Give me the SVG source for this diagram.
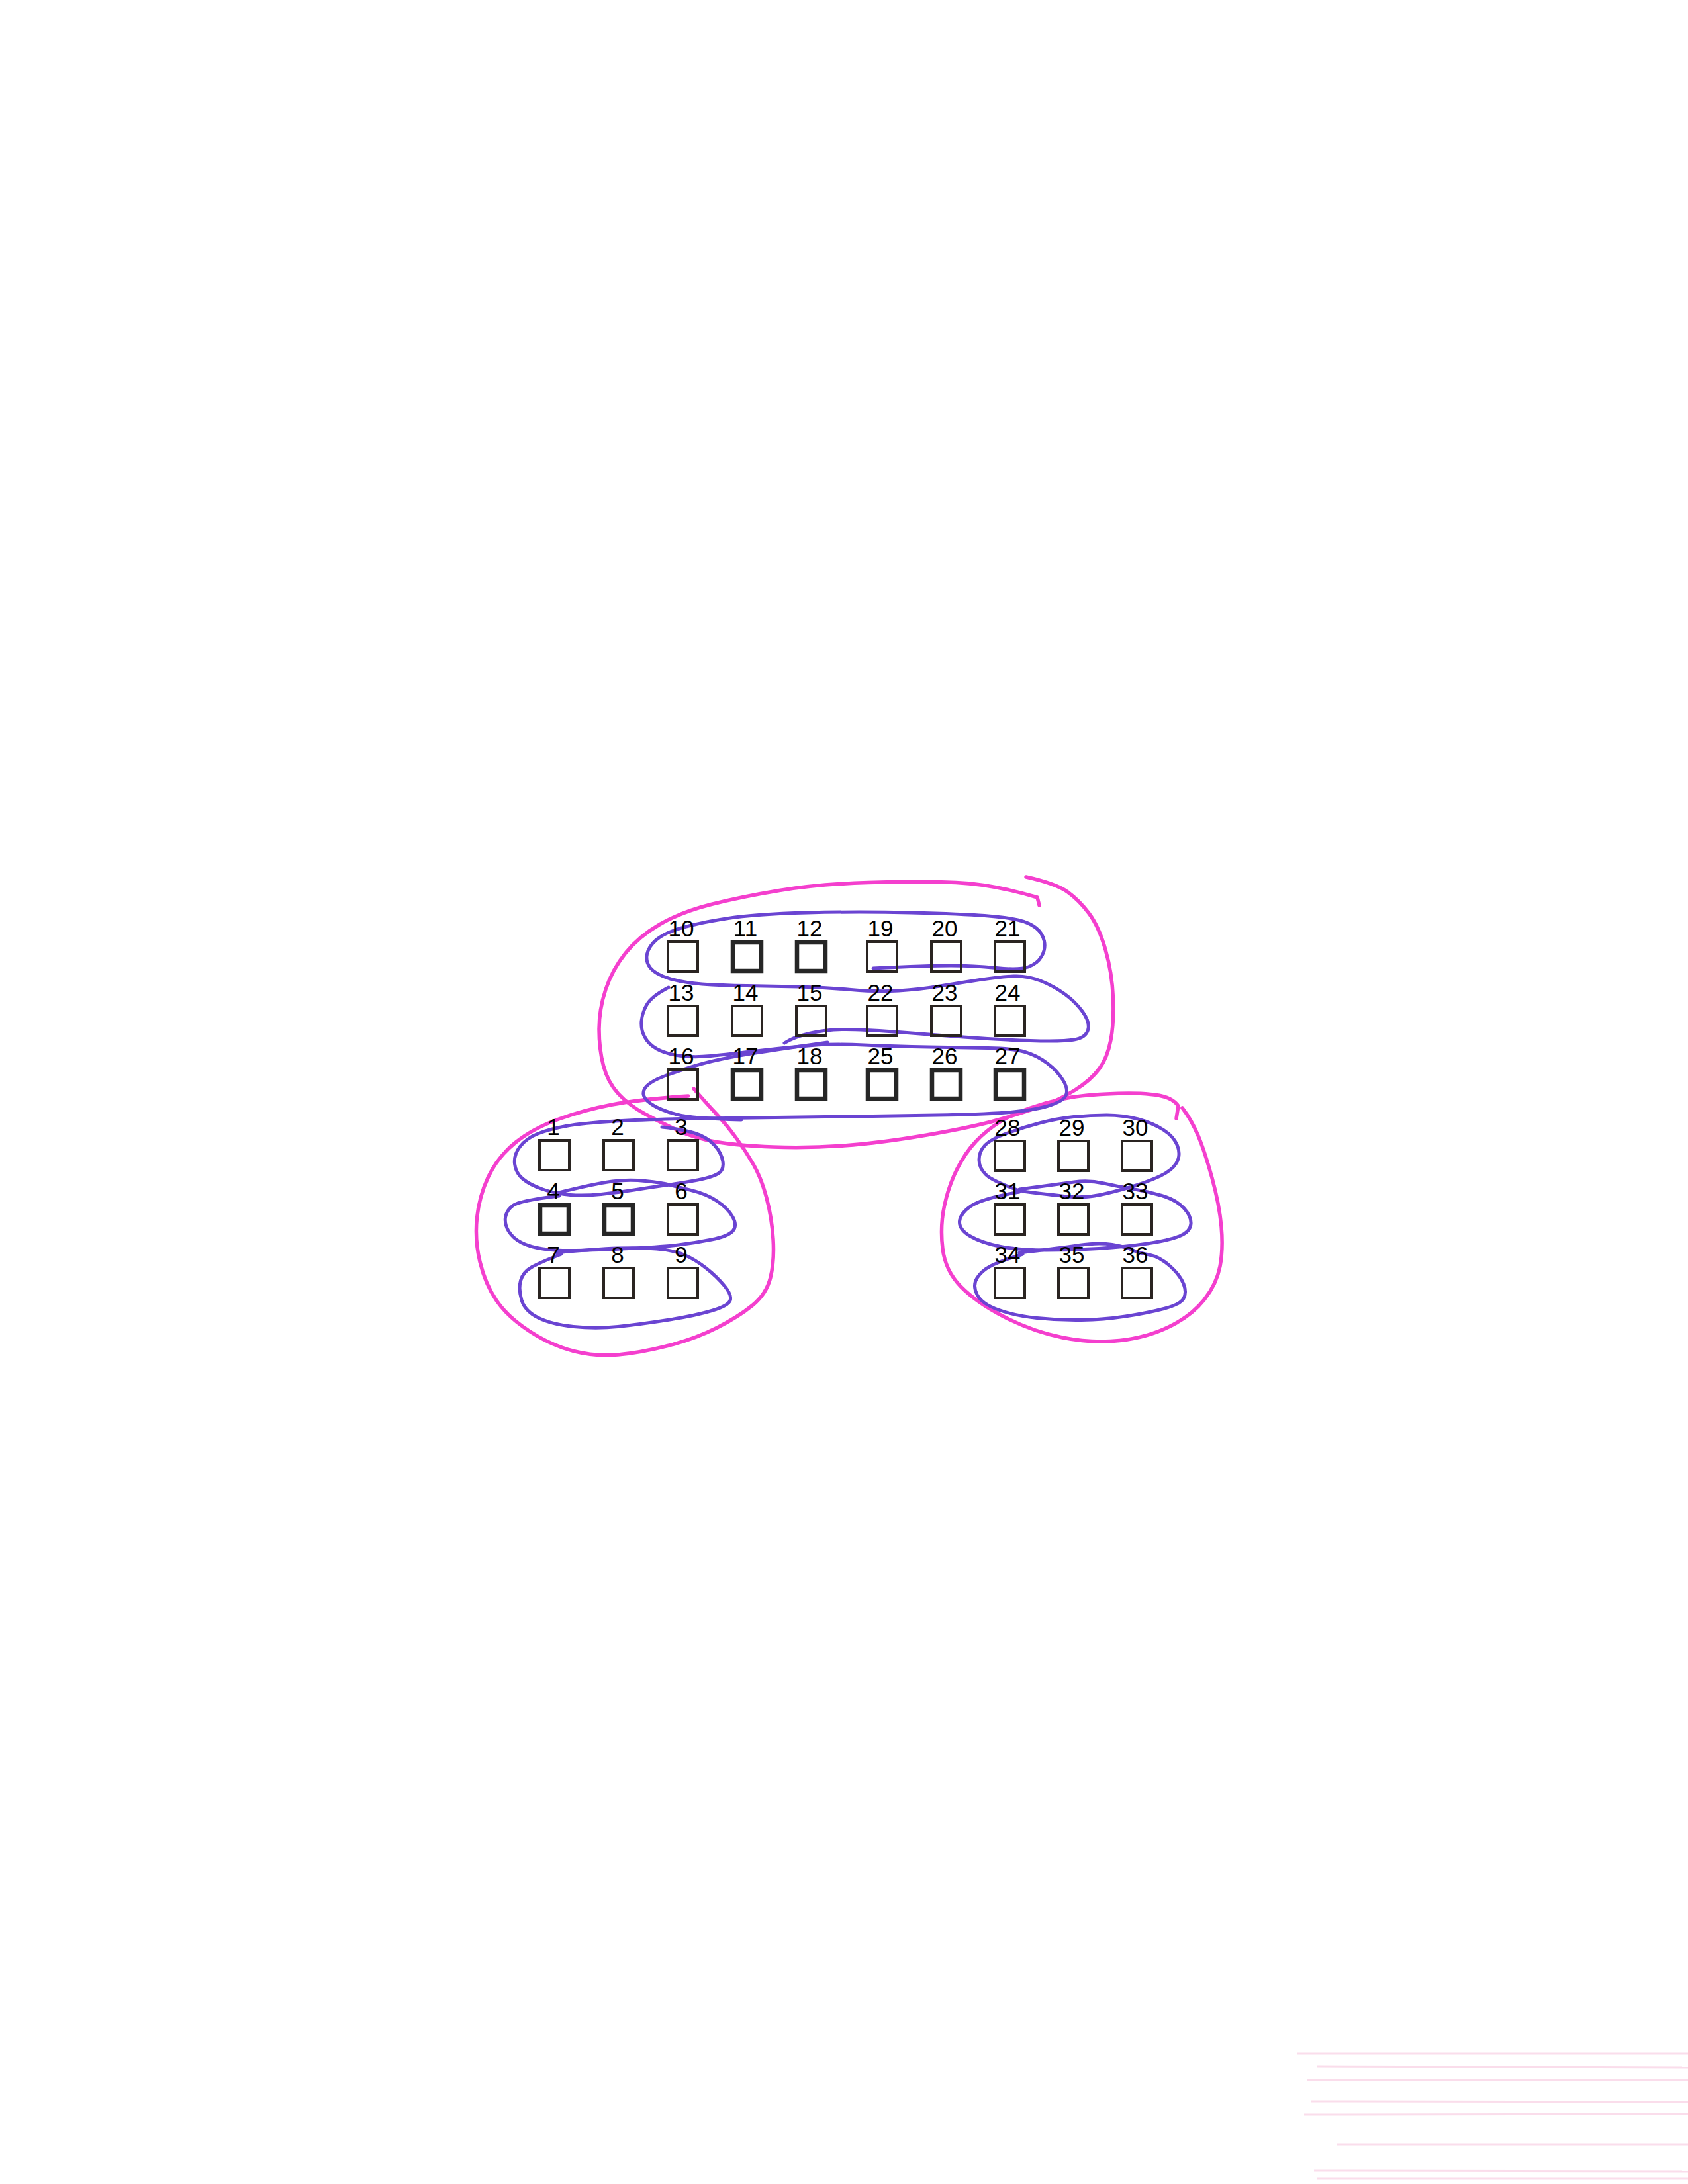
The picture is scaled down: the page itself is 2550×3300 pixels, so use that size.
<svg xmlns="http://www.w3.org/2000/svg" width="2550" height="3300" viewBox="0 0 2550 3300">
<style>
.bg{fill:#ffffff}
.pink{fill:none;stroke:#f43fce;stroke-width:5.5;stroke-linecap:round;stroke-linejoin:round}
.purple{fill:none;stroke:#6a44d2;stroke-width:5;stroke-linecap:round;stroke-linejoin:round}
.box{fill:none;stroke:#2a2421;stroke-width:4}
.box.thick{stroke:#262626;stroke-width:6.5}
.lbl{font-family:"Liberation Sans",Arial,sans-serif;font-size:35px;fill:#000;text-anchor:middle}
.streak{stroke:#f3a0c8;stroke-width:3;opacity:0.35}
</style>
<rect class="bg" x="0" y="0" width="2550" height="3300"/>

<g id="scan-marks">
<line class="streak" x1="1960" y1="3103" x2="2550" y2="3103"/>
<line class="streak" x1="1990" y1="3122" x2="2550" y2="3124"/>
<line class="streak" x1="1975" y1="3143" x2="2550" y2="3143"/>
<line class="streak" x1="1980" y1="3175" x2="2550" y2="3176"/>
<line class="streak" x1="1970" y1="3195" x2="2550" y2="3194"/>
<line class="streak" x1="2020" y1="3240" x2="2550" y2="3240"/>
<line class="streak" x1="1985" y1="3280" x2="2550" y2="3281"/>
<line class="streak" x1="1990" y1="3292" x2="2550" y2="3292"/>
</g>

<g id="connectors">
<path id="loop-top" class="pink" d="M1570,1368 L1567,1356 Q1500,1336 1444,1333.5 Q1388,1331 1311.5,1333.5 Q1235,1336 1177.5,1345.5 Q1120,1355 1074.5,1366.5 Q1029,1378 997,1396.5 Q965,1415 945,1440 Q925,1465 915,1495 Q905,1525 905,1555 Q905,1585 911.5,1610 Q918,1635 934,1652.5 Q950,1670 975,1683.5 Q1000,1697 1025,1708.5 Q1050,1720 1082.5,1725.5 Q1115,1731 1167.5,1733 Q1220,1735 1275,1731 Q1330,1727 1400,1715 Q1470,1703 1510,1691.5 Q1550,1680 1575,1671 Q1600,1662 1624,1647 Q1648,1632 1660.5,1615 Q1673,1598 1678,1571.5 Q1683,1545 1681.5,1507.5 Q1680,1470 1670,1435 Q1660,1400 1645,1380 Q1630,1360 1612.5,1347.5 Q1595,1335 1550,1325"/>
<path id="loop-left" class="pink" d="M1040,1656 Q967,1661 925,1669 Q883,1677 844,1691 Q805,1705 778.5,1726.5 Q752,1748 738,1777.5 Q724,1807 720.5,1840 Q717,1873 725,1906.5 Q733,1940 750,1965 Q767,1990 800,2011.5 Q833,2033 866.5,2041.5 Q900,2050 933.5,2047 Q967,2044 1008.5,2033.5 Q1050,2023 1082.5,2006.5 Q1115,1990 1136.5,1972.5 Q1158,1955 1164,1930 Q1170,1905 1168,1872.5 Q1166,1840 1158,1810 Q1150,1780 1138.5,1760 Q1127,1740 1112.5,1720 Q1098,1700 1083,1684 Q1068,1668 1048,1645"/>
<path id="loop-right" class="pink" d="M1777,1690 L1780,1671 Q1770,1656 1738,1653.5 Q1713,1651 1671.5,1653 Q1630,1655 1605,1660.5 Q1580,1666 1555,1674.5 Q1530,1683 1510,1695.5 Q1490,1708 1474,1725 Q1458,1742 1445.5,1767 Q1433,1792 1426.5,1822.5 Q1420,1853 1424,1886.5 Q1428,1920 1451.5,1944 Q1475,1968 1517.5,1990 Q1560,2012 1605,2021 Q1650,2030 1691.5,2025.5 Q1733,2021 1766.5,2004.5 Q1800,1988 1819,1964 Q1838,1940 1843,1913.5 Q1848,1887 1845,1853.5 Q1842,1820 1831,1780 Q1820,1740 1810,1716 Q1800,1692 1786,1674"/>

<path id="rows-top-a" class="purple" d="M1319,1463 Q1403,1459 1436.5,1459 Q1470,1459 1505,1462.5 Q1540,1466 1553.5,1461 Q1567,1456 1573.5,1445 Q1580,1434 1577.5,1422 Q1575,1410 1565,1402 Q1555,1394 1537.5,1390 Q1520,1386 1487.5,1383.5 Q1455,1381 1376.5,1379 Q1298,1377 1219.5,1379 Q1141,1381 1097,1388 Q1053,1395 1028,1402.5 Q1003,1410 991.5,1420 Q980,1430 977.5,1441.5 Q975,1453 982.5,1462.5 Q990,1472 1011,1478.5 Q1032,1485 1060.5,1487 Q1089,1489 1128.5,1489.5 Q1168,1490 1207,1491 Q1246,1492 1285.5,1495.5 Q1325,1499 1357.5,1497 Q1390,1495 1420,1490 Q1450,1485 1480,1480.5 Q1510,1476 1531,1475 Q1552,1474 1572,1482 Q1592,1490 1608.5,1502 Q1625,1514 1636,1529.5 Q1647,1545 1643.5,1556.5 Q1640,1568 1622.5,1571 Q1605,1574 1556.5,1572.5 Q1508,1571 1455.5,1567 Q1403,1563 1350.5,1559 Q1298,1555 1272,1555.5 Q1246,1556 1222.5,1561.5 Q1199,1567 1185,1576"/>
<path id="rows-top-b" class="purple" d="M1010,1492 Q985,1505 977.5,1517.5 Q970,1530 969,1543 Q968,1556 974,1567 Q980,1578 992.5,1585 Q1005,1592 1026,1595 Q1047,1598 1073.5,1595.5 Q1100,1593 1147,1587.5 Q1194,1582 1227,1579.5 Q1260,1577 1305.5,1579 Q1351,1581 1403,1582 Q1455,1583 1492.5,1583.5 Q1530,1584 1548.5,1589.5 Q1567,1595 1582,1606.5 Q1597,1618 1605.5,1631.5 Q1614,1645 1610.5,1654.5 Q1607,1664 1583.5,1671 Q1560,1678 1520,1681 Q1480,1684 1415.5,1685 Q1351,1686 1246,1687.5 Q1141,1689 1060.5,1690 Q980,1691 930,1694 Q880,1697 855,1701.5 Q830,1706 812.5,1713 Q795,1720 785.5,1732.5 Q776,1745 777.5,1758.5 Q779,1772 789.5,1781 Q800,1790 820,1797 Q840,1804 861.5,1805.5 Q883,1807 908,1804.5 Q933,1802 958,1798 Q983,1794 1008,1790.5 Q1033,1787 1054,1783 Q1075,1779 1084.5,1773.5 Q1094,1768 1092,1755 Q1090,1742 1079,1730 Q1068,1718 1049,1712 Q1030,1706 1000,1703"/>
<path id="rows-top-c" class="purple" d="M1250,1575 Q1180,1585 1147.5,1590 Q1115,1595 1089,1600.5 Q1063,1606 1041.5,1613 Q1020,1620 1002.5,1626.5 Q985,1633 977.5,1640.5 Q970,1648 972.5,1655.5 Q975,1663 987.5,1670.5 Q1000,1678 1022.5,1684 Q1045,1690 1120,1692"/>
<path id="rows-left-2" class="purple" d="M840,1803 Q900,1788 925,1785 Q950,1782 975,1784.5 Q1000,1787 1012.5,1790.5 Q1025,1794 1046,1799 Q1067,1804 1083.5,1815 Q1100,1826 1107,1839 Q1114,1852 1107,1860 Q1100,1868 1075,1873 Q1050,1878 1025,1881 Q1000,1884 950,1886.5 Q900,1889 870,1889.5 Q840,1890 820,1887 Q800,1884 787.5,1877.5 Q775,1871 768.5,1860.5 Q762,1850 763.5,1839.5 Q765,1829 775,1821.5 Q785,1814 845,1807"/>
<path id="rows-left-3" class="purple" d="M840,1893 Q900,1887 933.5,1886 Q967,1885 992,1887 Q1017,1889 1033.5,1896 Q1050,1903 1066.5,1916 Q1083,1929 1094.5,1943 Q1106,1957 1103,1965 Q1100,1973 1075,1980.5 Q1050,1988 1008.5,1994.5 Q967,2001 933.5,2004.5 Q900,2008 866.5,2004.5 Q833,2001 813,1991 Q793,1981 788,1964.5 Q783,1948 786.5,1935 Q790,1922 803.5,1914.5 Q817,1907 848,1895"/>
<path id="rows-right-1" class="purple" d="M1540,1799 Q1500,1785 1489.5,1775 Q1479,1765 1479,1752.5 Q1479,1740 1488,1730.5 Q1497,1721 1522,1712 Q1547,1703 1572,1696.5 Q1597,1690 1622,1687.5 Q1647,1685 1672,1685 Q1697,1685 1719.5,1691 Q1742,1697 1758,1707.5 Q1774,1718 1779,1732 Q1784,1746 1777,1757.5 Q1770,1769 1751.5,1777.5 Q1733,1786 1708,1793.5 Q1683,1801 1661.5,1805.5 Q1640,1810 1620,1808.5 Q1600,1807 1545,1800"/>
<path id="rows-right-2" class="purple" d="M1540,1797 Q1600,1789 1622.5,1786 Q1645,1783 1667.5,1788 Q1690,1793 1711.5,1796.5 Q1733,1800 1755,1806.5 Q1777,1813 1788.5,1825.5 Q1800,1838 1799,1849.5 Q1798,1861 1782.5,1867.5 Q1767,1874 1733.5,1879 Q1700,1884 1660,1886.5 Q1620,1889 1580,1889 Q1540,1889 1511.5,1883.5 Q1483,1878 1466,1868 Q1449,1858 1449.5,1846 Q1450,1834 1466.5,1822.5 Q1483,1811 1540,1801"/>
<path id="rows-right-3" class="purple" d="M1540,1893 Q1600,1886 1630,1881.5 Q1660,1877 1680,1880.5 Q1700,1884 1710,1888.5 Q1720,1893 1736,1896 Q1752,1899 1767.5,1913 Q1783,1927 1788,1940 Q1793,1953 1788,1962 Q1783,1971 1758,1977.5 Q1733,1984 1700,1989 Q1667,1994 1633.5,1994.5 Q1600,1995 1566.5,1991.5 Q1533,1988 1508,1979 Q1483,1970 1476,1956 Q1469,1942 1476,1931 Q1483,1920 1496.5,1913 Q1510,1906 1545,1895"/>
</g>

<g id="node-10"><rect class="box" x="1009" y="1423" width="45" height="45"/><text class="lbl" x="1029" y="1415">10</text></g>
<g id="node-11"><rect class="box thick" x="1107" y="1424" width="43" height="43"/><text class="lbl" x="1126" y="1415">11</text></g>
<g id="node-12"><rect class="box thick" x="1204" y="1424" width="43" height="43"/><text class="lbl" x="1223" y="1415">12</text></g>
<g id="node-19"><rect class="box" x="1310" y="1423" width="45" height="45"/><text class="lbl" x="1330" y="1415">19</text></g>
<g id="node-20"><rect class="box" x="1407" y="1423" width="45" height="45"/><text class="lbl" x="1427" y="1415">20</text></g>
<g id="node-21"><rect class="box" x="1503" y="1423" width="45" height="45"/><text class="lbl" x="1522" y="1415">21</text></g>

<g id="node-13"><rect class="box" x="1009" y="1520" width="45" height="45"/><text class="lbl" x="1029" y="1512">13</text></g>
<g id="node-14"><rect class="box" x="1106" y="1520" width="45" height="45"/><text class="lbl" x="1126" y="1512">14</text></g>
<g id="node-15"><rect class="box" x="1203" y="1520" width="45" height="45"/><text class="lbl" x="1223" y="1512">15</text></g>
<g id="node-22"><rect class="box" x="1310" y="1520" width="45" height="45"/><text class="lbl" x="1330" y="1512">22</text></g>
<g id="node-23"><rect class="box" x="1407" y="1520" width="45" height="45"/><text class="lbl" x="1427" y="1512">23</text></g>
<g id="node-24"><rect class="box" x="1503" y="1520" width="45" height="45"/><text class="lbl" x="1522" y="1512">24</text></g>

<g id="node-16"><rect class="box" x="1009" y="1616" width="45" height="45"/><text class="lbl" x="1029" y="1608">16</text></g>
<g id="node-17"><rect class="box thick" x="1107" y="1617" width="43" height="43"/><text class="lbl" x="1126" y="1608">17</text></g>
<g id="node-18"><rect class="box thick" x="1204" y="1617" width="43" height="43"/><text class="lbl" x="1223" y="1608">18</text></g>
<g id="node-25"><rect class="box thick" x="1311" y="1617" width="43" height="43"/><text class="lbl" x="1330" y="1608">25</text></g>
<g id="node-26"><rect class="box thick" x="1408" y="1617" width="43" height="43"/><text class="lbl" x="1427" y="1608">26</text></g>
<g id="node-27"><rect class="box thick" x="1504" y="1617" width="43" height="43"/><text class="lbl" x="1522" y="1608">27</text></g>

<g id="node-1"><rect class="box" x="815" y="1723" width="45" height="45"/><text class="lbl" x="836" y="1715">1</text></g>
<g id="node-2"><rect class="box" x="912" y="1723" width="45" height="45"/><text class="lbl" x="933" y="1715">2</text></g>
<g id="node-3"><rect class="box" x="1009" y="1723" width="45" height="45"/><text class="lbl" x="1029" y="1715">3</text></g>
<g id="node-4"><rect class="box thick" x="816" y="1821" width="43" height="43"/><text class="lbl" x="836" y="1812">4</text></g>
<g id="node-5"><rect class="box thick" x="913" y="1821" width="43" height="43"/><text class="lbl" x="933" y="1812">5</text></g>
<g id="node-6"><rect class="box" x="1009" y="1820" width="45" height="45"/><text class="lbl" x="1029" y="1812">6</text></g>
<g id="node-7"><rect class="box" x="815" y="1916" width="45" height="45"/><text class="lbl" x="836" y="1908">7</text></g>
<g id="node-8"><rect class="box" x="912" y="1916" width="45" height="45"/><text class="lbl" x="933" y="1908">8</text></g>
<g id="node-9"><rect class="box" x="1009" y="1916" width="45" height="45"/><text class="lbl" x="1029" y="1908">9</text></g>

<g id="node-28"><rect class="box" x="1503" y="1724" width="45" height="45"/><text class="lbl" x="1522" y="1716">28</text></g>
<g id="node-29"><rect class="box" x="1599" y="1724" width="45" height="45"/><text class="lbl" x="1619" y="1716">29</text></g>
<g id="node-30"><rect class="box" x="1695" y="1724" width="45" height="45"/><text class="lbl" x="1715" y="1716">30</text></g>
<g id="node-31"><rect class="box" x="1503" y="1820" width="45" height="45"/><text class="lbl" x="1522" y="1812">31</text></g>
<g id="node-32"><rect class="box" x="1599" y="1820" width="45" height="45"/><text class="lbl" x="1619" y="1812">32</text></g>
<g id="node-33"><rect class="box" x="1695" y="1820" width="45" height="45"/><text class="lbl" x="1715" y="1812">33</text></g>
<g id="node-34"><rect class="box" x="1503" y="1916" width="45" height="45"/><text class="lbl" x="1522" y="1908">34</text></g>
<g id="node-35"><rect class="box" x="1599" y="1916" width="45" height="45"/><text class="lbl" x="1619" y="1908">35</text></g>
<g id="node-36"><rect class="box" x="1695" y="1916" width="45" height="45"/><text class="lbl" x="1715" y="1908">36</text></g>
</svg>
